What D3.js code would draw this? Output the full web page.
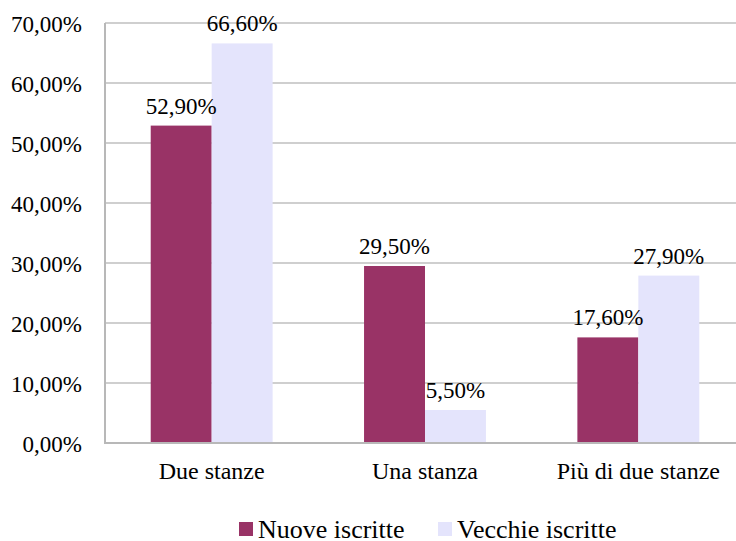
<html>
<head>
<meta charset="utf-8">
<script src="https://cdn.jsdelivr.net/npm/d3@7"></script>
</head>
<body style="margin:0">
<svg id="chart"></svg>
<script>
const categories = ["Due stanze", "Una stanza", "Più di due stanze"];
const seriesNames = ["Nuove iscritte", "Vecchie iscritte"];
const nuove = [52.9, 29.5, 17.6];
const vecchie = [66.6, 5.5, 27.9];
const yTicks = [0, 10, 20, 30, 40, 50, 60, 70];
const colors = ["#993366", "#E4E4FC"];

const width = 736, height = 541;
const plotLeft = 105, plotRight = 745, plotTop = 23, plotBottom = 443;

const svg = d3.select("#chart").attr("width", width).attr("height", height);

const fmt = v => v.toFixed(2).replace(".", ",") + "%";

const x0 = d3.scaleBand().domain(categories).range([plotLeft, plotRight]).padding(0);
const x1 = d3.scaleBand().domain(seriesNames).range([0, x0.bandwidth()]).paddingInner(0).paddingOuter(0.75);
const y = d3.scaleLinear().domain([0, 70]).range([plotBottom, plotTop]);

function styleText(sel, size) {
  return sel
    .style("font-family", "\"Liberation Serif\", Tinos, \"Times New Roman\"")
    .style("font-size", size + "px");
}

// gridlines
svg.append("g")
  .selectAll("line")
  .data(yTicks.filter(d => d > 0))
  .join("line")
  .attr("x1", plotLeft).attr("x2", width)
  .attr("y1", d => y(d)).attr("y2", d => y(d))
  .attr("stroke", "#bfbfbf").attr("stroke-width", 1.5);

// y tick labels
svg.append("g")
  .selectAll("text")
  .data(yTicks)
  .join("text")
  .attr("x", plotLeft - 23)
  .attr("y", d => y(d))
  .attr("dy", "0.38em")
  .attr("text-anchor", "end")
  .call(styleText, 23)
  .text(fmt);

const data = categories.map((c, i) => ({ cat: c, vals: [nuove[i], vecchie[i]] }));

const groups = svg.append("g")
  .selectAll("g")
  .data(data)
  .join("g")
  .attr("transform", d => `translate(${x0(d.cat)},0)`);

groups.selectAll("rect")
  .data(d => d.vals.map((v, i) => ({ key: seriesNames[i], v, i })))
  .join("rect")
  .attr("x", d => x1(d.key))
  .attr("width", x1.bandwidth())
  .attr("y", d => y(d.v))
  .attr("height", d => y(0) - y(d.v))
  .attr("fill", d => colors[d.i]);

groups.selectAll("text.val")
  .data(d => d.vals.map((v, i) => ({ key: seriesNames[i], v, i })))
  .join("text")
  .attr("class", "val")
  .attr("x", d => x1(d.key) + x1.bandwidth() / 2)
  .attr("y", d => y(d.v) - 12)
  .attr("text-anchor", "middle")
  .call(styleText, 23)
  .text(d => fmt(d.v));

// axes lines
svg.append("line")
  .attr("x1", plotLeft).attr("x2", plotLeft)
  .attr("y1", plotTop).attr("y2", plotBottom)
  .attr("stroke", "#b8b8b8").attr("stroke-width", 2);
svg.append("line")
  .attr("x1", plotLeft - 1).attr("x2", width)
  .attr("y1", plotBottom).attr("y2", plotBottom)
  .attr("stroke", "#b8b8b8").attr("stroke-width", 2);

// category labels
svg.append("g")
  .selectAll("text")
  .data(categories)
  .join("text")
  .attr("x", d => x0(d) + x0.bandwidth() / 2)
  .attr("y", 479)
  .attr("text-anchor", "middle")
  .call(styleText, 24)
  .text(d => d);

// legend
const legendX = [239, 438];
const legend = svg.append("g")
  .selectAll("g")
  .data(seriesNames)
  .join("g")
  .attr("transform", (d, i) => `translate(${legendX[i]},0)`);
legend.append("rect")
  .attr("x", 0).attr("y", 522)
  .attr("width", 14).attr("height", 14)
  .attr("fill", (d, i) => colors[i]);
legend.append("text")
  .attr("x", 19).attr("y", 538)
  .call(styleText, 26)
  .text(d => d);
</script>
</body>
</html>
